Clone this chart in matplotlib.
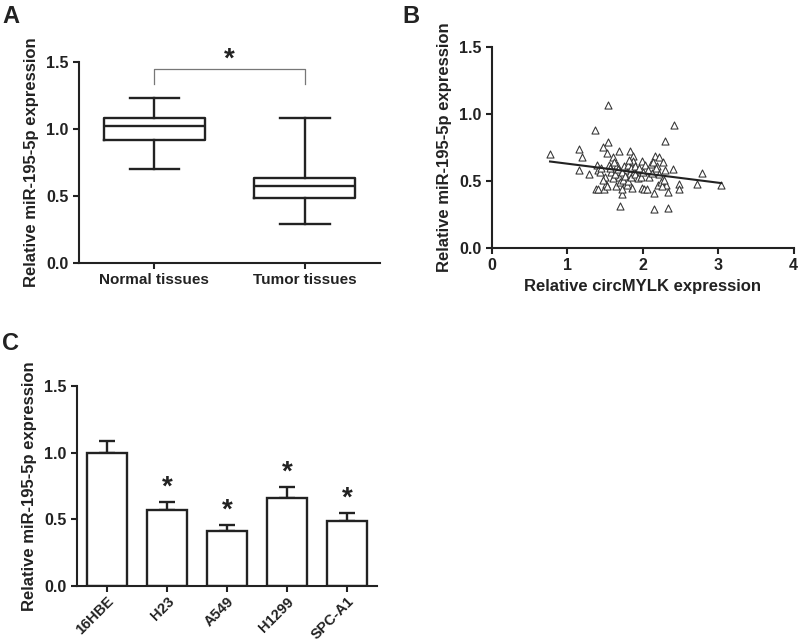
import numpy as np
import matplotlib
matplotlib.use("Agg")
import matplotlib.pyplot as plt

plt.rcParams['font.family'] = ['Liberation Sans', 'DejaVu Sans']
plt.rcParams['font.weight'] = 'bold'

ink = '#222222'

# panel A: box plot summary
groups_a = ['Normal tissues', 'Tumor tissues']
whislo_a = [0.70, 0.29]
q1_a = [0.92, 0.48]
med_a = [1.02, 0.57]
q3_a = [1.08, 0.63]
whishi_a = [1.23, 1.08]

# panel B: scatter
circ_x = [0.77, 1.16, 1.20, 1.15, 1.29, 1.36, 1.39, 1.40, 1.38, 1.41, 1.47, 1.54, 1.54, 1.53,
          1.55, 1.48, 1.51, 1.60, 1.69, 1.66, 1.69, 1.70, 1.72, 1.83, 1.87, 1.84, 1.78, 1.83,
          1.86, 1.92, 1.99, 1.99, 2.02, 2.05, 2.08, 2.11, 2.15, 2.15, 2.16, 2.22, 2.19, 2.20,
          2.27, 2.30, 2.29, 2.31, 2.33, 2.34, 2.40, 2.42, 2.48, 2.48, 2.72, 2.79, 3.04,
          1.43, 1.50, 1.47, 1.52, 1.58, 1.60, 1.63, 1.65, 1.67, 1.70, 1.72, 1.74, 1.75, 1.77,
          1.79, 1.80, 1.81, 1.84, 1.85, 1.87, 1.88, 1.89, 1.90, 1.93, 1.95, 1.97, 2.00, 2.03,
          2.07, 2.12, 2.14, 2.18, 2.21, 2.24, 2.26, 2.28, 1.62, 1.73, 1.57, 1.45, 1.82]
mir_y = [0.70, 0.74, 0.68, 0.58, 0.55, 0.88, 0.62, 0.58, 0.44, 0.44, 0.75, 0.79, 1.07, 0.71,
         0.62, 0.44, 0.48, 0.68, 0.72, 0.62, 0.53, 0.31, 0.40, 0.72, 0.69, 0.63, 0.58, 0.56,
         0.45, 0.58, 0.65, 0.45, 0.44, 0.44, 0.53, 0.63, 0.41, 0.29, 0.69, 0.68, 0.61, 0.47,
         0.64, 0.80, 0.58, 0.47, 0.42, 0.30, 0.59, 0.92, 0.48, 0.44, 0.48, 0.56, 0.47,
         0.57, 0.53, 0.51, 0.46, 0.57, 0.52, 0.55, 0.46, 0.59, 0.49, 0.57, 0.51, 0.61, 0.54,
         0.47, 0.62, 0.50, 0.60, 0.53, 0.65, 0.57, 0.61, 0.55, 0.52, 0.60, 0.53, 0.57, 0.62,
         0.58, 0.56, 0.64, 0.60, 0.55, 0.49, 0.46, 0.51, 0.64, 0.44, 0.60, 0.60, 0.66]
fit_slope = -0.071
fit_icept = 0.70

# panel C: cell lines
cells = ['16HBE', 'H23', 'A549', 'H1299', 'SPC-A1']
cell_mean = [1.00, 0.57, 0.41, 0.66, 0.49]
cell_sd = [0.09, 0.06, 0.05, 0.08, 0.06]
cell_star = [False, True, True, True, True]

yticks = [0.0, 0.5, 1.0, 1.5]
ylab = 'Relative miR-195-5p expression'


def style(ax):
    for s in ['top', 'right']:
        ax.spines[s].set_visible(False)
    for s in ['left', 'bottom']:
        ax.spines[s].set_linewidth(1.5)
        ax.spines[s].set_color(ink)
    ax.tick_params(width=1.5, length=4, color=ink, labelcolor=ink)
    ax.tick_params(axis='y', labelsize=11.5)
    ax.set_ylim(0, 1.5)
    ax.set_yticks(yticks)
    ax.set_yticklabels([f'{v:.1f}' for v in yticks])
    ax.set_ylabel(ylab, fontsize=12, fontweight='bold', color=ink, labelpad=5)


fig = plt.figure(figsize=(8, 6.44), dpi=100)

# A
axA = fig.add_axes([0.099, 0.592, 0.376, 0.312])
stats = []
for i in range(len(groups_a)):
    stats.append(dict(whislo=whislo_a[i], q1=q1_a[i], med=med_a[i], q3=q3_a[i],
                      whishi=whishi_a[i], fliers=[]))
lp = dict(color=ink, linewidth=1.7)
axA.bxp(stats, positions=range(len(groups_a)), widths=0.67, capwidths=0.33,
        showfliers=False, boxprops=lp, whiskerprops=lp, capprops=lp, medianprops=lp)
style(axA)
axA.set_xlim(-0.5, 1.5)
axA.set_xticks(range(len(groups_a)))
axA.set_xticklabels(groups_a, fontsize=11)
axA.plot([0, 0, 1, 1], [1.335, 1.45, 1.45, 1.335], color='#777777', lw=0.9, clip_on=False)
axA.text(0.5, 1.42, '*', ha='center', va='bottom', fontsize=20, color=ink, clip_on=False)

# B
axB = fig.add_axes([0.615, 0.615, 0.377, 0.312])
axB.scatter(circ_x, mir_y, marker='^', s=26, facecolors='white', edgecolors='#333333',
            linewidths=0.75, zorder=2)
xs = np.array([min(circ_x), max(circ_x)])
axB.plot(xs, fit_icept + fit_slope * xs, color=ink, lw=1.5, zorder=3)
style(axB)
axB.set_xlim(0, 4)
axB.set_xticks([0, 1, 2, 3, 4])
axB.tick_params(axis='x', labelsize=11.5)
axB.set_xlabel('Relative circMYLK expression', fontsize=12, fontweight='bold', color=ink)

# C
axC = fig.add_axes([0.096, 0.090, 0.375, 0.311])
xc = np.arange(len(cells))
axC.bar(xc, cell_mean, width=0.67, color='white', edgecolor=ink, linewidth=1.7, zorder=2)
axC.errorbar(xc, cell_mean, yerr=[np.zeros(len(cells)), cell_sd], fmt='none', ecolor=ink,
             elinewidth=1.7, capsize=6, capthick=1.7, zorder=1)
for i in range(len(cells)):
    if cell_star[i]:
        axC.text(xc[i], cell_mean[i] + cell_sd[i] + 0.01, '*', ha='center', va='bottom',
                 fontsize=20, color=ink)
style(axC)
axC.set_xlim(-0.5, len(cells) - 0.5)
axC.set_xticks(xc)
axC.tick_params(axis='x', pad=2)
axC.set_xticklabels(cells, rotation=45, ha='right', rotation_mode='anchor', fontsize=10.5)

fig.text(0.003, 0.975, 'A', fontsize=17, fontweight='bold', va='center', color=ink)
fig.text(0.503, 0.975, 'B', fontsize=17, fontweight='bold', va='center', color=ink)
fig.text(0.003, 0.467, 'C', fontsize=17, fontweight='bold', va='center', color=ink)

fig.savefig('out.png', dpi=100)
